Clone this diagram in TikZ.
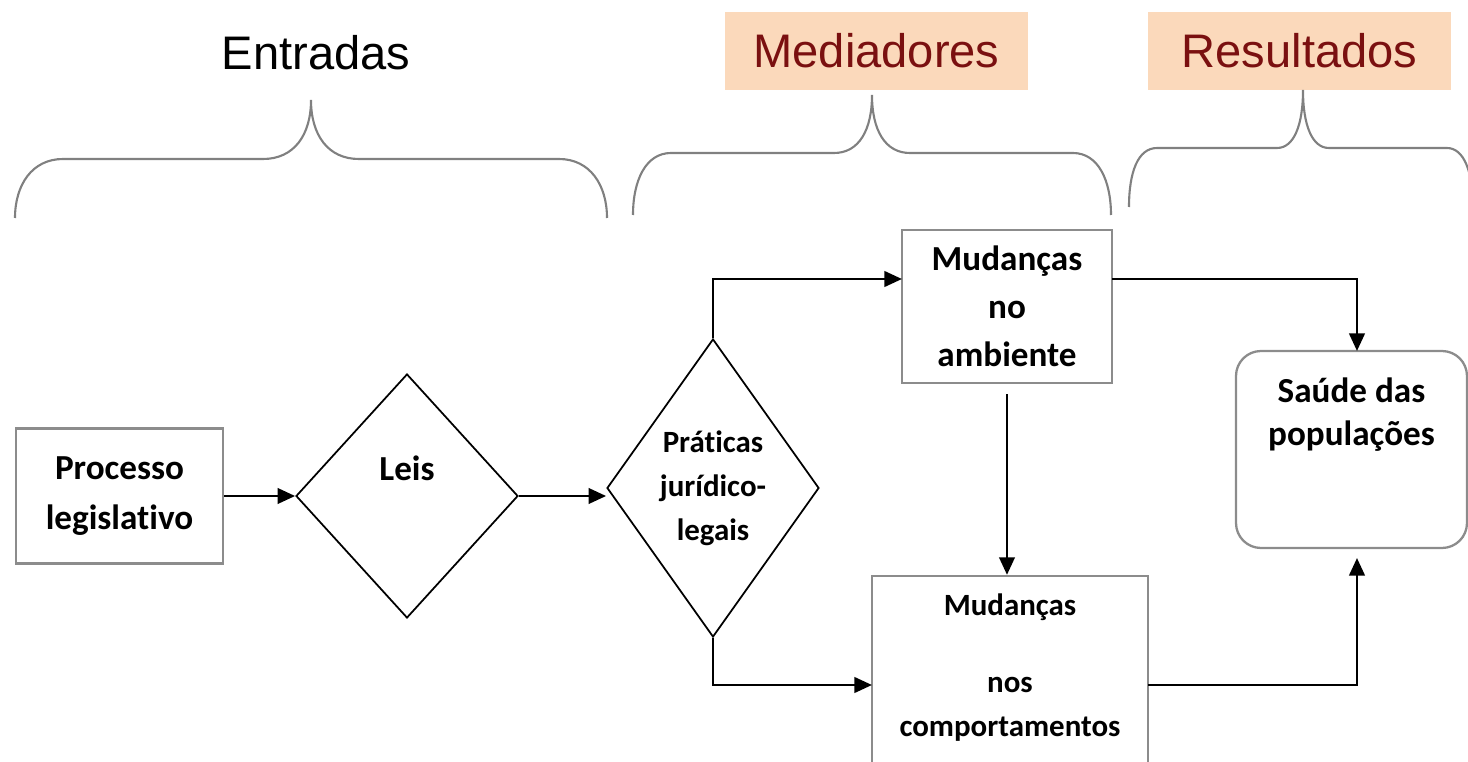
\documentclass[tikz,border=0pt]{standalone}
\usepackage{fontspec}
\setmainfont{Carlito}[Ligatures=NoCommon]
\newfontfamily\headfont{Liberation Sans}
\usetikzlibrary{shapes.geometric,arrows.meta}

\definecolor{headfill}{HTML}{FBD9BB}
\definecolor{headtext}{HTML}{7A1010}
\definecolor{bracegray}{HTML}{808080}
\definecolor{boxgray}{HTML}{8C8C8C}

\tikzset{
    >={Triangle[length=5pt,width=4.4pt]},
    flow/.style={->, line width=0.75pt},
    curly/.style={draw=bracegray, line width=0.6pt},
    headtxt/.style={font=\headfont\fontsize{13.4pt}{16pt}\selectfont},
    header/.style={headtxt, text=headtext, fill=headfill, minimum width=3.03cm, minimum height=0.78cm, inner sep=0pt},
    bigtext/.style={font=\fontsize{10pt}{13.7pt}\selectfont\bfseries, align=center},
    smalltext/.style={font=\fontsize{8.8pt}{12.5pt}\selectfont\bfseries, align=center},
    stage/.style={draw=boxgray, line width=0.65pt, inner sep=0pt},
    decision/.style={diamond, draw, line width=0.5pt, inner sep=0pt},
}

\begin{document}
\begin{tikzpicture}
    \clip (0,0) rectangle (14.68,-7.62);
    % Headers
    \node[headtxt] (entradas) at (3.16,-0.53) {Entradas};
    \node[header] (mediadores) at (8.765,-0.51) {Mediadores};
    \node[header] (resultados) at (12.995,-0.51) {Resultados};

    % Braces
    \draw[curly] (0.15,-2.18) .. controls (0.15,-1.85) and (0.32,-1.59) .. (0.63,-1.59)
        -- (2.63,-1.59) .. controls (2.94,-1.59) and (3.11,-1.35) .. (3.11,-1.00)
        .. controls (3.11,-1.35) and (3.28,-1.59) .. (3.59,-1.59)
        -- (5.59,-1.59) .. controls (5.90,-1.59) and (6.07,-1.85) .. (6.07,-2.18);
    \draw[curly] (6.33,-2.15) .. controls (6.33,-1.80) and (6.46,-1.53) .. (6.71,-1.53)
        -- (8.34,-1.53) .. controls (8.59,-1.53) and (8.72,-1.30) .. (8.72,-0.95)
        .. controls (8.72,-1.30) and (8.85,-1.53) .. (9.10,-1.53)
        -- (10.73,-1.53) .. controls (10.98,-1.53) and (11.11,-1.80) .. (11.11,-2.15);
    \draw[curly] (11.29,-2.07) .. controls (11.29,-1.72) and (11.38,-1.48) .. (11.57,-1.48)
        -- (12.77,-1.48) .. controls (12.94,-1.48) and (13.03,-1.25) .. (13.03,-0.90)
        .. controls (13.03,-1.25) and (13.12,-1.48) .. (13.29,-1.48)
        -- (14.47,-1.48) .. controls (14.64,-1.48) and (14.73,-1.72) .. (14.73,-2.07);

    % Blocks
    \node[stage, bigtext, minimum width=2.07cm, minimum height=1.35cm] (processo) at (1.195,-4.96) {Processo\\[0.5pt]legislativo};
    \node[decision, minimum width=2.22cm, minimum height=2.44cm,
        label={[bigtext, yshift=0.28cm]center:Leis}] (leis) at (4.07,-4.96) {};
    \node[decision, smalltext, aspect=0.7, minimum width=2.12cm, minimum height=2.98cm] (praticas) at (7.13,-4.88) {Práticas\\jurídico-\\legais};
    \node[stage, bigtext, minimum width=2.10cm, minimum height=1.53cm] (ambiente) at (10.07,-3.065) {Mudanças\\no\\ambiente};
    \node[stage, minimum width=2.76cm, minimum height=2.04cm,
        label={[smalltext, yshift=0.105cm]center:{Mudanças\\[9.4pt]nos\\comportamentos}}] (comport) at (10.10,-6.78) {};
    \node[stage, rounded corners=0.25cm, minimum width=2.31cm, minimum height=1.97cm,
        label={[bigtext, yshift=0.345cm]center:{Saúde das\\[-1.5pt]populações}}] (saude) at (13.515,-4.495) {};

    % Connector ends
    \coordinate (ambin) at (9.02,-2.79);
    \coordinate (ambout) at (11.12,-2.79);
    \coordinate (comin) at (8.72,-6.85);
    \coordinate (comout) at (11.48,-6.85);
    \coordinate (saudein) at (13.57,-3.51);
    \coordinate (saudeup) at (13.57,-5.58);

    % Arrows
    \draw[flow] (processo.east) -- (leis.west);
    \draw[flow] (leis.east) -- (leis.east -| praticas.west);
    \draw[flow] (praticas.north) |- (ambin);
    \draw[flow] (praticas.south) |- (comin);
    \draw[flow] ([yshift=-0.1cm]ambiente.south) -- (ambiente.south |- comport.north);
    \draw[flow] (ambout) -| (saudein);
    \draw[flow] (comout) -| (saudeup);
\end{tikzpicture}
\end{document}
